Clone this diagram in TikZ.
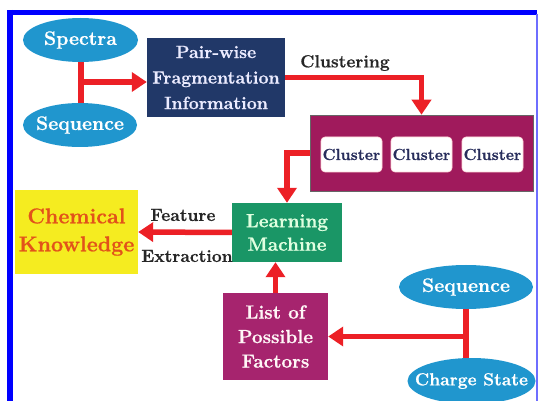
\documentclass[tikz,border=0pt]{standalone}
\usepackage{fontspec}
\setmainfont{Latin Modern Roman}[BoldFeatures={FakeBold=0.8}]
\usetikzlibrary{arrows.meta,shapes.geometric}

\definecolor{ovalblue}{RGB}{32,150,206}
\definecolor{navybox}{RGB}{33,56,104}
\definecolor{plumbox}{RGB}{160,26,92}
\definecolor{pinkbox}{RGB}{166,36,110}
\definecolor{greenbox}{RGB}{26,150,102}
\definecolor{yellowbox}{RGB}{245,236,32}
\definecolor{orangetext}{RGB}{226,82,26}
\definecolor{flowred}{RGB}{236,32,38}
\definecolor{frameblue}{RGB}{0,0,255}
\definecolor{lightframe}{RGB}{110,110,255}
\definecolor{clustertext}{RGB}{40,46,92}

% zero-width label so the ellipse keeps its own size
\newcommand{\ovaltext}[1]{\makebox[0pt][c]{#1}}

\tikzset{
  oval/.style={ellipse, fill=ovalblue, draw=none, inner sep=0pt,
    text=white, font=\bfseries\fontsize{19.5}{21}\selectfont},
  blockbox/.style={rectangle, draw=none, inner sep=0pt, align=center,
    font=\bfseries},
  clusterbox/.style={rectangle, rounded corners=4pt, fill=white,
    draw=pink!60, line width=0.6pt, minimum width=61pt, minimum height=35pt,
    inner sep=0pt, text=clustertext, font=\bfseries\fontsize{16}{18}\selectfont},
  flow/.style={draw=flowred, line width=5.5pt,
    -{Triangle[length=15pt,width=19pt]}},
  joint/.style={draw=flowred, line width=6pt},
  caption/.style={font=\bfseries\fontsize{17.5}{19}\selectfont, text=black!85}
}

\begin{document}
\begin{tikzpicture}[x=1pt,y=-1pt]
  \useasboundingbox (0,0) rectangle (539,401);
  \clip (0,0) rectangle (539,401);

  % outer frame
  \draw[frameblue, line width=6pt] (10,10) -- (10,401);
  \draw[frameblue, line width=5pt] (7,12.5) -- (537,12.5);
  \draw[lightframe, line width=2pt] (537,14) -- (537,401);

  % inputs on the upper left
  \node[oval, minimum width=115pt, minimum height=44pt] (spec) at (80.5,40) {\ovaltext{Spectra}};
  \node[oval, minimum width=114pt, minimum height=44pt] (seqa) at (80,125) {\ovaltext{Sequence}};

  % pair-wise fragmentation block
  \node[blockbox, fill=navybox, text=white!92!blue, minimum width=138pt,
    minimum height=79pt, font=\bfseries\fontsize{17.8}{25.5}\selectfont]
    (pwf) at (216,77.5) {Pair-wise\\Fragmentation\\Information};

  % clusters
  \node[blockbox, fill=plumbox, draw=black!60, line width=0.6pt,
    minimum width=223pt, minimum height=76pt] (clu) at (421.5,153) {};
  \node[clusterbox] (c1) at (351.5,154.5) {Cluster};
  \node[clusterbox] (c2) at (421.5,154.5) {Cluster};
  \node[clusterbox] (c3) at (492.5,154.5) {Cluster};

  % learning machine
  \node[blockbox, fill=greenbox, text=white!88!green, minimum width=110pt,
    minimum height=59pt, font=\bfseries\fontsize{19}{23.5}\selectfont]
    (lm) at (287,232.5) {Learning\\Machine};

  % chemical knowledge
  \node[blockbox, fill=yellowbox, text=orangetext, minimum width=123pt,
    minimum height=84pt, font=\bfseries\fontsize{21.5}{28}\selectfont]
    (ck) at (76.5,232) {Chemical\\Knowledge};

  % list of possible factors
  \node[blockbox, fill=pinkbox, text=white!88!pink, minimum width=105pt,
    minimum height=87pt, font=\bfseries\fontsize{19}{24.5}\selectfont]
    (lpf) at (275.5,336.5) {List of\\Possible\\Factors};

  % inputs on the lower right
  \node[oval, minimum width=134pt, minimum height=44pt] (seqb) at (466,287) {\ovaltext{Sequence}};
  \node[oval, minimum width=128pt, minimum height=46pt,
    font=\bfseries\fontsize{17.5}{19}\selectfont] (chg) at (471.5,381) {\ovaltext{Charge State}};

  % connectors
  \draw[joint] (spec.south) -- (spec.south |- seqa.north);
  \coordinate (ja) at (80.5,82);
  \draw[flow] (ja) -- (ja -| pwf.west);

  \draw[flow] (pwf.east) -| (clu.north);
  \node[caption] (lblc) at (345,63) {Clustering};

  \draw[flow] (clu.west) -| (lm.north);

  \draw[flow] (lm.west) -- (ck.east);
  \node[caption] (lblf) at (183,215) {Feature};
  \node[caption] (lble) at (187,256) {Extraction};

  \draw[flow] (lpf.north) -- (lpf.north |- lm.south);

  \draw[joint] (seqb.south) -- (seqb.south |- chg.north);
  \coordinate (jb) at (466,336.5);
  \draw[flow] (jb) -- (jb -| lpf.east);
\end{tikzpicture}
\end{document}
